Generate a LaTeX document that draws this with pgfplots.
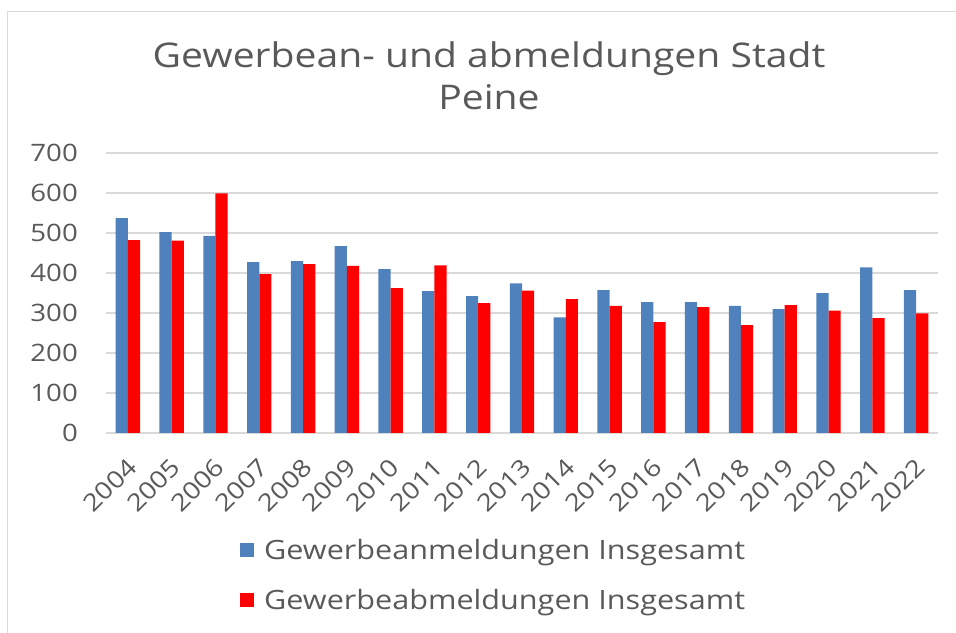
\documentclass[border=0pt]{standalone}
\usepackage{fontspec}
\setmainfont{Open Sans}[FakeStretch=1.15]
\usepackage{pgfplots}
\pgfplotsset{compat=1.18}
\definecolor{txt}{HTML}{595959}
\definecolor{grd}{HTML}{D9D9D9}
\definecolor{cblue}{HTML}{4F81BD}
\definecolor{cred}{HTML}{FF0000}
\begin{document}
\begin{tikzpicture}
\path[use as bounding box] (0pt,0pt) rectangle (956pt,632pt);
\draw[grd, line width=1.5pt] (7.5pt,-2pt) -- (7.5pt,620.5pt) -- (958pt,620.5pt);
\node[anchor=base, text=txt, font=\fontsize{34}{40}\selectfont, inner sep=0pt] at (489pt,564pt) {Gewerbean- und abmeldungen Stadt};
\node[anchor=base, text=txt, font=\fontsize{34}{40}\selectfont, inner sep=0pt] at (489pt,522pt) {Peine};
\begin{axis}[
  at={(106pt,199pt)}, anchor=south west,
  scale only axis, width=832pt, height=280pt,
  ybar=0pt, bar width=12.2pt,
  xmin=-0.5, xmax=18.5, ymin=0, ymax=700,
  xtick={0,...,18},
  xticklabels={2004,2005,2006,2007,2008,2009,2010,2011,2012,2013,2014,2015,2016,2017,2018,2019,2020,2021,2022},
  ytick={0,100,...,700},
  /pgf/number format/assume math mode=true,
  major tick length=0pt,
  axis line style={draw=none},
  ymajorgrids, major grid style={grd, line width=1.3pt},
  tick label style={text=txt, font=\fontsize{24}{28}\selectfont},
  yticklabel style={inner sep=0pt, anchor=east, xshift=-28pt},
  xticklabel style={inner sep=0pt, xshift=4.5pt, yshift=-29.7pt, rotate=45, anchor=east},
  legend style={draw=none, fill=none, at={(0.161,-0.372)}, anchor=north west,
    font=\fontsize{26.6}{32}\selectfont, text=txt, inner sep=0pt,
    row sep=24pt, /tikz/every odd column/.append style={column sep=8pt}},
  legend cell align=left,
  legend image code/.code={\fill[#1] (0pt,-7pt) rectangle (14pt,7pt);},
]
\addplot[fill=cblue, draw=none] coordinates {
(0,537) (1,502) (2,493) (3,427) (4,430) (5,467) (6,410) (7,355) (8,342) (9,374)
(10,289) (11,357) (12,327) (13,327) (14,318) (15,310) (16,350) (17,414) (18,357)};
\addplot[fill=cred, draw=none] coordinates {
(0,482) (1,481) (2,599) (3,397) (4,422) (5,418) (6,362) (7,419) (8,325) (9,356)
(10,335) (11,318) (12,277) (13,315) (14,270) (15,320) (16,306) (17,287) (18,299)};
\legend{Gewerbeanmeldungen Insgesamt, Gewerbeabmeldungen Insgesamt}
\end{axis}
\end{tikzpicture}
\end{document}
